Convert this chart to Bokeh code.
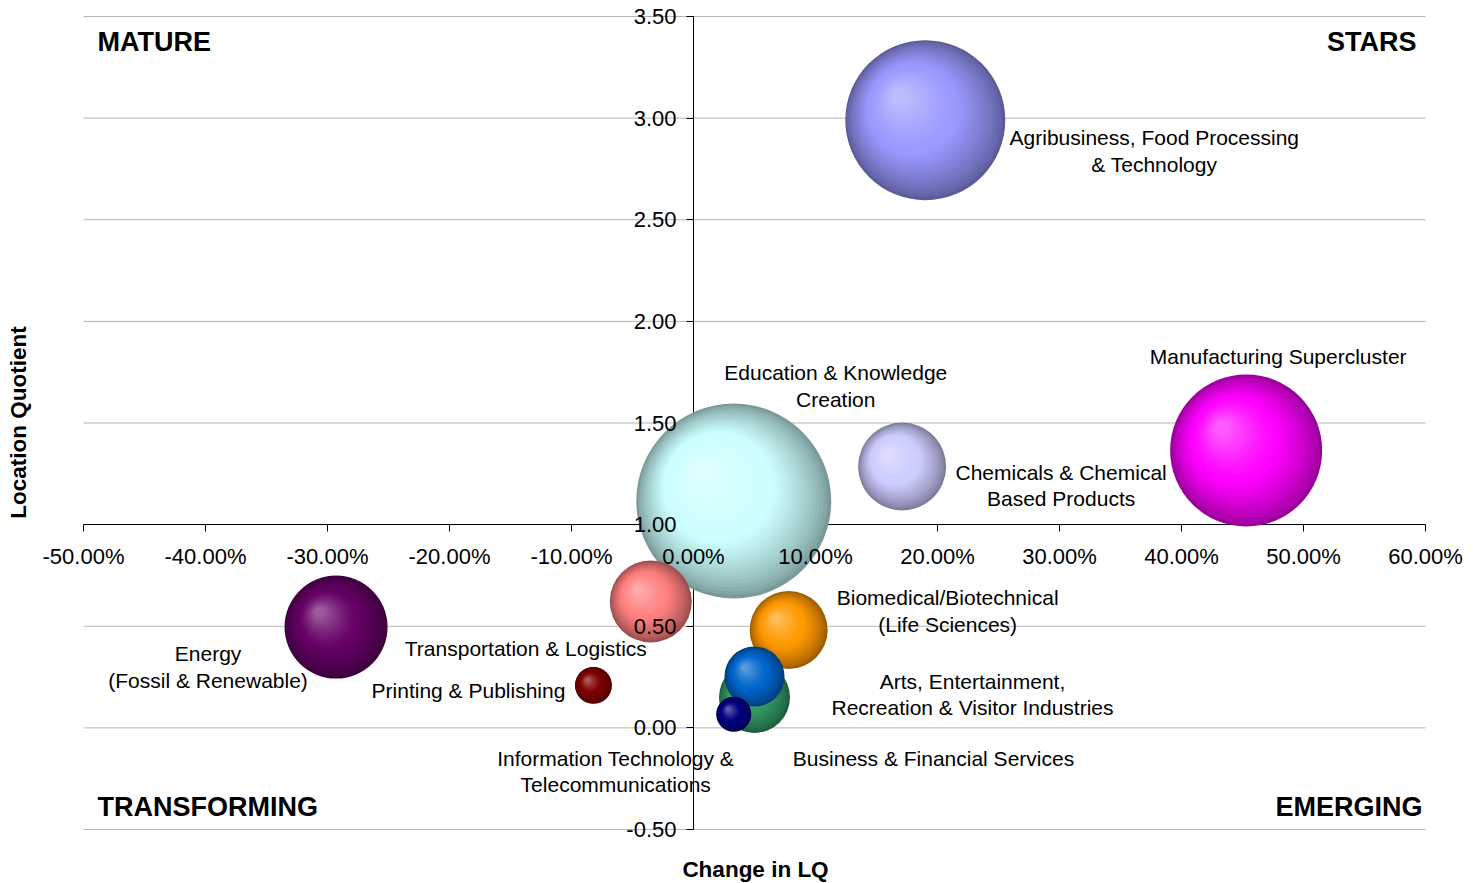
import numpy as np
from bokeh.plotting import figure
from bokeh.models import ColumnDataSource, LinearAxis, FixedTicker, NumeralTickFormatter, Range1d
from bokeh.core.properties import value
from bokeh.embed import file_html
from bokeh.resources import INLINE

# ---------------- data ----------------
clusters = [
    "Agribusiness, Food Processing\n& Technology",
    "Manufacturing Supercluster",
    "Chemicals & Chemical\nBased Products",
    "Energy\n(Fossil & Renewable)",
    "Printing & Publishing",
    "Education & Knowledge\nCreation",
    "Transportation & Logistics",
    "Biomedical/Biotechnical\n(Life Sciences)",
    "Business & Financial Services",
    "Arts, Entertainment,\nRecreation & Visitor Industries",
    "Information Technology &\nTelecommunications",
]
change_in_lq = [0.190, 0.453, 0.171, -0.293, -0.082, 0.033, -0.035, 0.078, 0.050, 0.050, 0.033]
location_quotient = [2.99, 1.365, 1.286, 0.496, 0.209, 1.116, 0.622, 0.482, 0.150, 0.253, 0.067]
bubble_size = [32000, 28880, 9680, 13260, 1710, 47530, 8400, 7600, 6300, 4500, 1530]

x_ticks = [-0.5, -0.4, -0.3, -0.2, -0.1, 0.0, 0.1, 0.2, 0.3, 0.4, 0.5, 0.6]
y_ticks = [-0.5, 0.0, 0.5, 1.0, 1.5, 2.0, 2.5, 3.0, 3.5]
quadrants = ["MATURE", "STARS", "TRANSFORMING", "EMERGING"]

# ---------------- styles / layout ----------------
colors = ["#9999FF", "#FF00FF", "#CCCCFF", "#660066", "#800000", "#CCFFFF",
          "#FF8080", "#FF9900", "#339966", "#0066CC", "#000080"]
label_dx = [229, 32, 159, -128, -125, 102, -125, 159, 179, 218, -118]
label_dy = [31, -94, 19, 40, 5, -115, 47, -19, 61, 18, 57]

W, H = 1482, 883
X_MIN, X_MAX, Y_MIN, Y_MAX = -0.5, 0.6, -0.5, 3.5
PAD_L, PAD_R, PAD_T, PAD_B = 83, 57, 16, 54
PX_X = (W - PAD_L - PAD_R) / (X_MAX - X_MIN)
PX_Y = (H - PAD_T - PAD_B) / (Y_MAX - Y_MIN)
X_START = X_MIN - PAD_L / PX_X
X_END = X_MAX + PAD_R / PX_X
Y_START = Y_MIN - PAD_B / PX_Y
Y_END = Y_MAX + PAD_T / PX_Y
MAX_R = 97.5
FONT = "Liberation Sans"


def sx(px):  # canvas pixel -> data x
    return X_START + px / PX_X


def sy(py):  # canvas pixel -> data y
    return Y_END - py / PX_Y


p = figure(width=W, height=H, x_range=Range1d(X_START, X_END), y_range=Range1d(Y_START, Y_END),
           output_backend="svg", toolbar_location=None, x_axis_type=None, y_axis_type=None,
           min_border=0, min_border_left=0, min_border_right=0, min_border_top=0, min_border_bottom=0)
p.outline_line_color = None
p.title.visible = False
p.background_fill_color = "white"

# grid lines
grid_src = ColumnDataSource(dict(x0=[X_MIN] * len(y_ticks), x1=[X_MAX] * len(y_ticks), y=y_ticks))
p.segment(x0="x0", x1="x1", y0="y", y1="y", source=grid_src, line_color="#B4B4B4", line_width=1, level="image")

# axis lines + ticks (under bubbles)
xt = FixedTicker(ticks=x_ticks)
yt = FixedTicker(ticks=y_ticks)
ax_x = LinearAxis(fixed_location=1.0, ticker=xt, bounds=(X_MIN, X_MAX), major_label_text_color=None,
                  major_tick_in=0, major_tick_out=7, minor_tick_line_color=None,
                  axis_line_color="black", major_tick_line_color="black", level="underlay")
ax_y = LinearAxis(fixed_location=0.0, ticker=yt, bounds=(Y_MIN, Y_MAX), major_label_text_color=None,
                  major_tick_in=0, major_tick_out=7, minor_tick_line_color=None,
                  axis_line_color="black", major_tick_line_color="black", level="underlay")
p.add_layout(ax_x, "below")
p.add_layout(ax_y, "left")

# bubbles with a radial shading made of stacked discs
N = 32
bx, by, bs, bc = [], [], [], []
smax = max(bubble_size)
for i in range(len(clusters)):
    r = MAX_R * np.sqrt(bubble_size[i] / smax)
    base = np.array([int(colors[i][k:k + 2], 16) for k in (1, 3, 5)], dtype=float)
    rim = base * 0.6
    hi = base + (255 - base) * 0.38
    for k in range(N):
        t = k / N
        rk = r * (1 - 0.93 * t)
        ox = -0.33 * r * t
        oy = 0.30 * r * t
        if t < 0.45:
            u = t / 0.45
            c = rim + (base - rim) * u ** 0.75
        else:
            u = (t - 0.45) / 0.55
            c = base + (hi - base) * u ** 1.3
        c = np.clip(c, 0, 255).astype(int)
        bx.append(change_in_lq[i] + ox / PX_X)
        by.append(location_quotient[i] + oy / PX_Y)
        bs.append(2 * rk)
        bc.append("#%02x%02x%02x" % tuple(c))
bub = ColumnDataSource(dict(x=bx, y=by, size=bs, color=bc))
p.scatter(x="x", y="y", size="size", source=bub, marker="circle", fill_color="color", line_color=None)

# tick labels (over bubbles)
lx = LinearAxis(fixed_location=1.0, ticker=xt, bounds=(X_MIN, X_MAX),
                formatter=NumeralTickFormatter(format="0.00%"), axis_line_color=None,
                major_tick_line_color=None, minor_tick_line_color=None, major_tick_in=0, major_tick_out=7,
                major_label_standoff=12, major_label_text_font=FONT, major_label_text_font_size="22px",
                major_label_text_color="black")
ly = LinearAxis(fixed_location=0.0, ticker=yt, bounds=(Y_MIN, Y_MAX),
                formatter=NumeralTickFormatter(format="0.00"), axis_line_color=None,
                major_tick_line_color=None, minor_tick_line_color=None, major_tick_in=0, major_tick_out=7,
                major_label_standoff=10, major_label_text_font=FONT, major_label_text_font_size="22px",
                major_label_text_color="black")
p.add_layout(lx, "below")
p.add_layout(ly, "left")

# cluster labels
lab = ColumnDataSource(dict(x=change_in_lq, y=location_quotient, text=clusters, dx=label_dx, dy=label_dy))
p.text(x="x", y="y", text="text", x_offset="dx", y_offset="dy", source=lab, text_align="center",
       text_baseline="middle", text_font=value(FONT), text_font_size="21px", text_line_height=1.15,
       text_color="black")

# quadrant labels
q = ColumnDataSource(dict(x=[sx(97), sx(1416), sx(97), sx(1422)], y=[sy(41), sy(41), sy(806), sy(806)],
                          text=quadrants, align=["left", "right", "left", "right"]))
p.text(x="x", y="y", text="text", text_align="align", source=q, text_baseline="middle",
       text_font=value(FONT), text_font_style="bold", text_font_size="27px", text_color="black")

# axis titles
p.text(x=[sx(755)], y=[sy(869)], text=["Change in LQ"], text_align="center", text_baseline="middle",
       text_font=value(FONT), text_font_style="bold", text_font_size="22.5px", text_color="black")
p.text(x=[sx(18)], y=[sy(422)], text=["Location Quotient"], angle=np.pi / 2, text_align="center",
       text_baseline="middle", text_font=value(FONT), text_font_style="bold", text_font_size="22.5px",
       text_color="black")

open("out.html", "w").write(file_html(p, INLINE))
